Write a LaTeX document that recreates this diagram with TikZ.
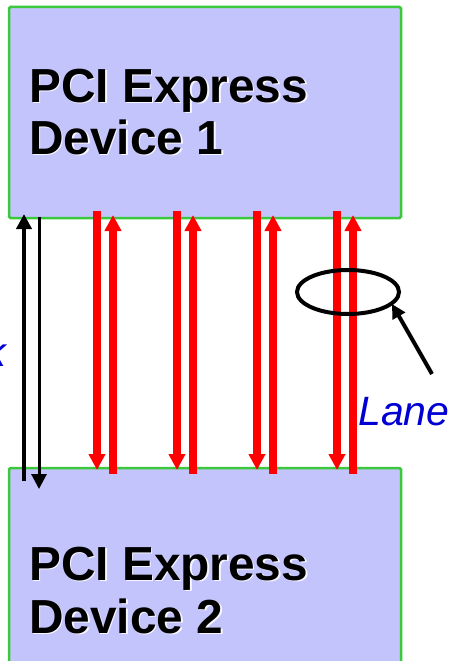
\documentclass[tikz,border=0pt]{standalone}
\usepackage{fontspec}
\setmainfont{Liberation Sans}
\usetikzlibrary{arrows.meta,shapes.geometric}
\definecolor{boxfill}{RGB}{196,196,252}
\definecolor{boxline}{RGB}{60,200,60}
\definecolor{lanered}{RGB}{255,0,0}
\definecolor{labelblue}{RGB}{0,0,210}
\tikzset{
  devbox/.style={draw=boxline, line width=2.5pt, fill=boxfill, rounded corners=1.5pt, minimum width=392pt, inner sep=0pt},
  devtext/.style={anchor=base west, inner sep=0pt, font=\fontsize{47.8}{52}\selectfont\bfseries, text=black},
  devshadow/.style={anchor=base west, inner sep=0pt, font=\fontsize{47.8}{52}\selectfont\bfseries, text=white, opacity=0.85},
  redline/.style={draw=lanered, line width=8pt, -{Triangle[length=16pt,width=16pt]}},
  blkline/.style={draw=black, line width=#1, -{Triangle[length=15pt,width=15pt]}},
  lbl/.style={inner sep=0pt, font=\fontsize{41}{44}\selectfont\itshape, text=labelblue},
}
\begin{document}
\begin{tikzpicture}[x=1pt,y=-1pt]
\useasboundingbox (0,0) rectangle (454,661);
% device boxes
\node[devbox, minimum height=211pt] (dev1) at (205,112.5) {};
\node[devbox, minimum height=210pt] (dev2) at (205,573) {};
% texts with light shadow
\node[devshadow] (s1a) at (30.5,103.5) {PCI Express};
\node[devshadow] (s1b) at (30.5,155.5) {Device 1};
\node[devtext] (t1a) at (29,102) {PCI Express};
\node[devtext] (t1b) at (29,154) {Device 1};
\node[devshadow] (s2a) at (30.5,581.5) {PCI Express};
\node[devshadow] (s2b) at (30.5,634.5) {Device 2};
\node[devtext] (t2a) at (29,580) {PCI Express};
\node[devtext] (t2b) at (29,633) {Device 2};
% black link arrows
\coordinate (bu1) at (24,481); \coordinate (bu2) at (24,214);
\coordinate (bd1) at (39,217); \coordinate (bd2) at (39,489);
\draw[blkline=4pt] (bu1) -- (bu2);
\draw[blkline=3pt] (bd1) -- (bd2);
% red lanes
\foreach \i/\x in {1/97,2/177,3/257,4/337}{
  \coordinate (rd\i a) at (\x,211);
  \coordinate (rd\i b) at (\x,470);
  \coordinate (ru\i a) at (\x+16,474);
  \coordinate (ru\i b) at (\x+16,215);
  \draw[redline] (rd\i a) -- (rd\i b);
  \draw[redline] (ru\i a) -- (ru\i b);
}
% lane ellipse and pointer
\node[draw=black, line width=4pt, ellipse, minimum width=102pt, minimum height=44pt, inner sep=0pt] (ring) at (348,292) {};
\coordinate (ptr) at (432,374);
\coordinate (ptrtip) at (392,304);
\draw[line width=4pt, -{Triangle[length=14pt,width=14pt]}] (ptr) -- (ptrtip);
% labels
\node[lbl, anchor=base west] (lane) at (358,425) {Lane};
\node[lbl, anchor=base east] (link) at (6,366) {Link};
\end{tikzpicture}
\end{document}
